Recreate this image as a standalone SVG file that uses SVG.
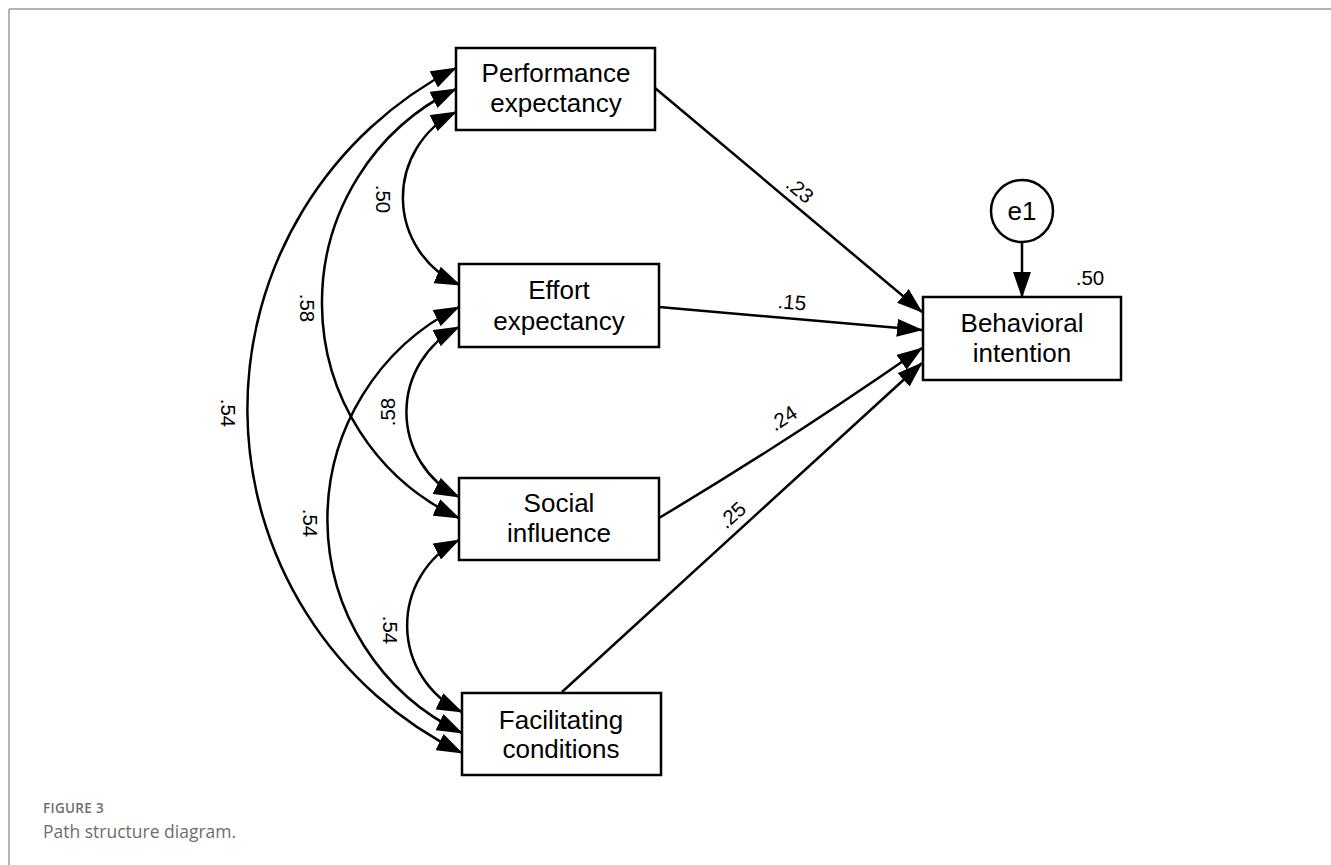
<svg xmlns="http://www.w3.org/2000/svg" width="1331" height="865" viewBox="0 0 1331 865">
<defs>
<marker id="ah" markerUnits="userSpaceOnUse" markerWidth="26" markerHeight="18" refX="25" refY="9" orient="auto-start-reverse" viewBox="0 0 26 18">
<path d="M0,0 L26,9 L0,18 z" fill="#000"/>
</marker>
<style>
.box{fill:#fff;stroke:#000;stroke-width:2.5}
.t{font-family:"Liberation Sans",Arial,sans-serif;font-size:26px;fill:#000;text-anchor:middle}
.c{font-family:"Liberation Sans",Arial,sans-serif;font-size:20.5px;fill:#000;text-anchor:middle}
.ln{fill:none;stroke:#000;stroke-width:2.5}
.cap1{font-family:"Open Sans",sans-serif;font-size:13.5px;font-weight:600;fill:#6e6e6e;letter-spacing:0.3px}
.cap2{font-family:"Open Sans",sans-serif;font-size:17.5px;fill:#6e6e6e}
</style>
</defs>
<rect width="1331" height="865" fill="#fff"/>
<g id="frame">
<line x1="9" y1="9" x2="1331" y2="9" stroke="#b3b3b3" stroke-width="2"/>
<line x1="9" y1="9" x2="9" y2="865" stroke="#b3b3b3" stroke-width="2"/>
</g>
<g id="connectors">
<path class="ln" d="M655,88 L922,312" marker-end="url(#ah)"/>
<path class="ln" d="M659,307 L922,330" marker-end="url(#ah)"/>
<path class="ln" d="M659,518 Q790,440 922,348" marker-end="url(#ah)"/>
<path class="ln" d="M562,692 L922,363" marker-end="url(#ah)"/>
<path class="ln" d="M1022,242 L1022,297" marker-end="url(#ah)"/>
<path class="ln" d="M456,112 A95.5,95.5 0 0 0 460,285" marker-start="url(#ah)" marker-end="url(#ah)"/>
<path class="ln" d="M456,89 A237.5,237.5 0 0 0 459,518" marker-start="url(#ah)" marker-end="url(#ah)"/>
<path class="ln" d="M456,68 A383,383 0 0 0 462,753" marker-start="url(#ah)" marker-end="url(#ah)"/>
<path class="ln" d="M459,327 A95,95 0 0 0 459,497" marker-start="url(#ah)" marker-end="url(#ah)"/>
<path class="ln" d="M459,307 A237,237 0 0 0 462,733" marker-start="url(#ah)" marker-end="url(#ah)"/>
<path class="ln" d="M459,540 A96,96 0 0 0 462,712" marker-start="url(#ah)" marker-end="url(#ah)"/>
<text class="c" x="800" y="190" dy="0.35em" transform="rotate(40 800 190)">.23</text>
<text class="c" x="792" y="302" dy="0.35em" transform="rotate(5 792 302)">.15</text>
<text class="c" x="783" y="418" dy="0.35em" transform="rotate(-33 783 418)">.24</text>
<text class="c" x="732" y="515" dy="0.35em" transform="rotate(-42 732 515)">.25</text>
<text class="c" x="383" y="199" dy="0.35em" transform="rotate(90 383 199)">.50</text>
<text class="c" x="307" y="308" dy="0.35em" transform="rotate(90 307 308)">.58</text>
<text class="c" x="228" y="413" dy="0.35em" transform="rotate(90 228 413)">.54</text>
<text class="c" x="388" y="412" dy="0.35em" transform="rotate(-90 388 412)">.58</text>
<text class="c" x="310" y="523" dy="0.35em" transform="rotate(90 310 523)">.54</text>
<text class="c" x="390" y="630" dy="0.35em" transform="rotate(90 390 630)">.54</text>
</g>
<g id="pe">
<rect class="box" x="456" y="48" width="199" height="82"/>
<text class="t" x="556" y="82">Performance</text>
<text class="t" x="556" y="112">expectancy</text>
</g>
<g id="ee">
<rect class="box" x="459" y="264" width="200" height="83"/>
<text class="t" x="559" y="299">Effort</text>
<text class="t" x="559" y="330">expectancy</text>
</g>
<g id="si">
<rect class="box" x="459" y="478" width="200" height="82"/>
<text class="t" x="559" y="512">Social</text>
<text class="t" x="559" y="542">influence</text>
</g>
<g id="fc">
<rect class="box" x="462" y="693" width="199" height="82"/>
<text class="t" x="561" y="729">Facilitating</text>
<text class="t" x="561" y="758">conditions</text>
</g>
<g id="bi">
<rect class="box" x="923" y="297" width="198" height="83"/>
<text class="t" x="1022" y="332">Behavioral</text>
<text class="t" x="1022" y="362">intention</text>
<text class="c" x="1090" y="285">.50</text>
</g>
<g id="e1">
<circle cx="1022" cy="211" r="31" fill="#fff" stroke="#000" stroke-width="2.5"/>
<text class="t" x="1022" y="220">e1</text>
</g>
<g id="caption">
<text class="cap1" x="43" y="813">FIGURE 3</text>
<text class="cap2" x="43" y="838">Path structure diagram.</text>
</g>
</svg>
